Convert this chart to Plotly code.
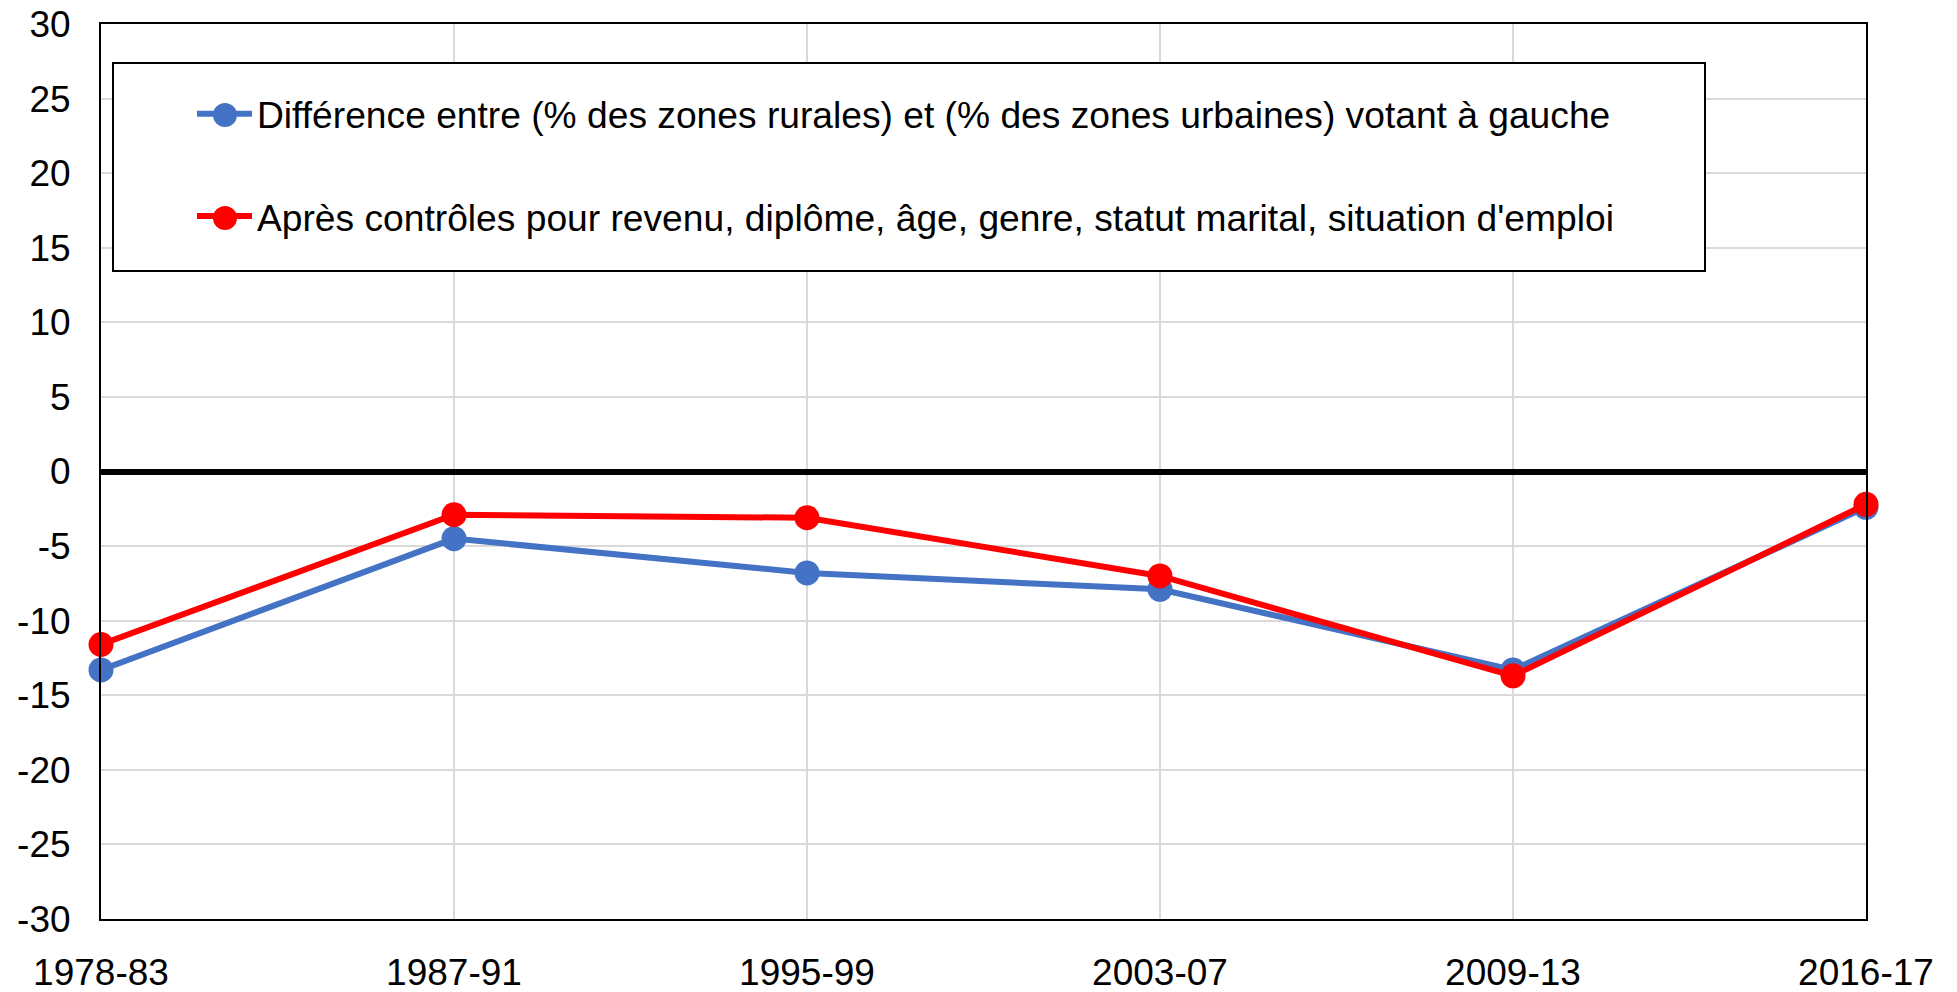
import plotly.graph_objects as go

categories = ["1978-83", "1987-91", "1995-99", "2003-07", "2009-13", "2016-17"]
diff_raw = [-13.3, -4.5, -6.8, -7.9, -13.3, -2.4]
diff_controls = [-11.6, -2.9, -3.1, -7.0, -13.7, -2.2]
name_raw = "Différence entre (% des zones rurales) et (% des zones urbaines) votant à gauche"
name_controls = "Après contrôles pour revenu, diplôme, âge, genre, statut marital, situation d'emploi"
y_ticks = list(range(-30, 31, 5))
y_ticktext = [str(v) for v in y_ticks]

FONT = "Liberation Sans, Arial, sans-serif"
BLUE, RED = "#4472C4", "#FF0000"

fig = go.Figure()
fig.add_trace(go.Scatter(
    x=categories, y=diff_raw, name=name_raw, mode="lines+markers",
    line=dict(color=BLUE, width=6), marker=dict(size=25, color=BLUE),
    cliponaxis=False, legendgroup="a"))
fig.add_trace(go.Scatter(
    x=categories, y=diff_controls, name=name_controls, mode="lines+markers",
    line=dict(color=RED, width=6), marker=dict(size=25, color=RED),
    cliponaxis=False, legendgroup="b"))

# body margin is removed below, so the figure fills the window exactly
W, H = 1957, 992
PL, PR, PT, PB = 101, 1866, 24, 919  # plot area in page pixels
L, T = PL, PT
R, B = W - PR, H - PB
pw, ph = W - L - R, H - T - B

def px(xp):
    return (xp - PL) / pw

def py(yp):
    return 1 - (yp - PT) / ph

# legend frame
fig.add_shape(type="rect", xref="paper", yref="paper",
              x0=px(113), x1=px(1705), y0=py(271), y1=py(63),
              line=dict(color="black", width=2), fillcolor="white", layer="above")
# larger legend marker discs (legend symbols are size-capped by plotly)
for cy, col in ((115, BLUE), (218, RED)):
    fig.add_shape(type="circle", xref="paper", yref="paper",
                  x0=px(225 - 12), x1=px(225 + 12), y0=py(cy + 12), y1=py(cy - 12),
                  line=dict(width=0), fillcolor=col, layer="above")

fig.update_layout(
    width=W, height=H,
    margin=dict(l=L, r=R, t=T, b=B, pad=0),
    paper_bgcolor="white", plot_bgcolor="white",
    font=dict(family=FONT, color="black", size=37),
    showlegend=True,
    legend=dict(x=px(192), y=py(83), xanchor="left", yanchor="top",
                bgcolor="rgba(0,0,0,0)", borderwidth=0,
                font=dict(family=FONT, size=37.2, color="black"),
                itemwidth=55, tracegroupgap=51, traceorder="grouped"),
    xaxis=dict(type="category", range=[0, 5], showgrid=True, gridcolor="#D9D9D9", gridwidth=2,
               showline=True, linecolor="black", linewidth=2, mirror=True, automargin=False,
               ticks="", tickfont=dict(size=37, family=FONT), ticklabelstandoff=20,
               ticklabeloverflow="allow"),
    yaxis=dict(range=[-30, 30], tickvals=y_ticks, ticktext=y_ticktext,
               showgrid=True, gridcolor="#D9D9D9", gridwidth=2,
               showline=True, linecolor="black", linewidth=2, mirror=True, automargin=False,
               zeroline=True, zerolinecolor="black", zerolinewidth=6,
               ticks="", tickfont=dict(size=37, family=FONT), ticklabelstandoff=21,
               ticklabeloverflow="allow"),
)

fig.write_html("out.html", config={"displayModeBar": False},
               post_script="document.body.style.margin='0';document.body.style.overflow='hidden';")
